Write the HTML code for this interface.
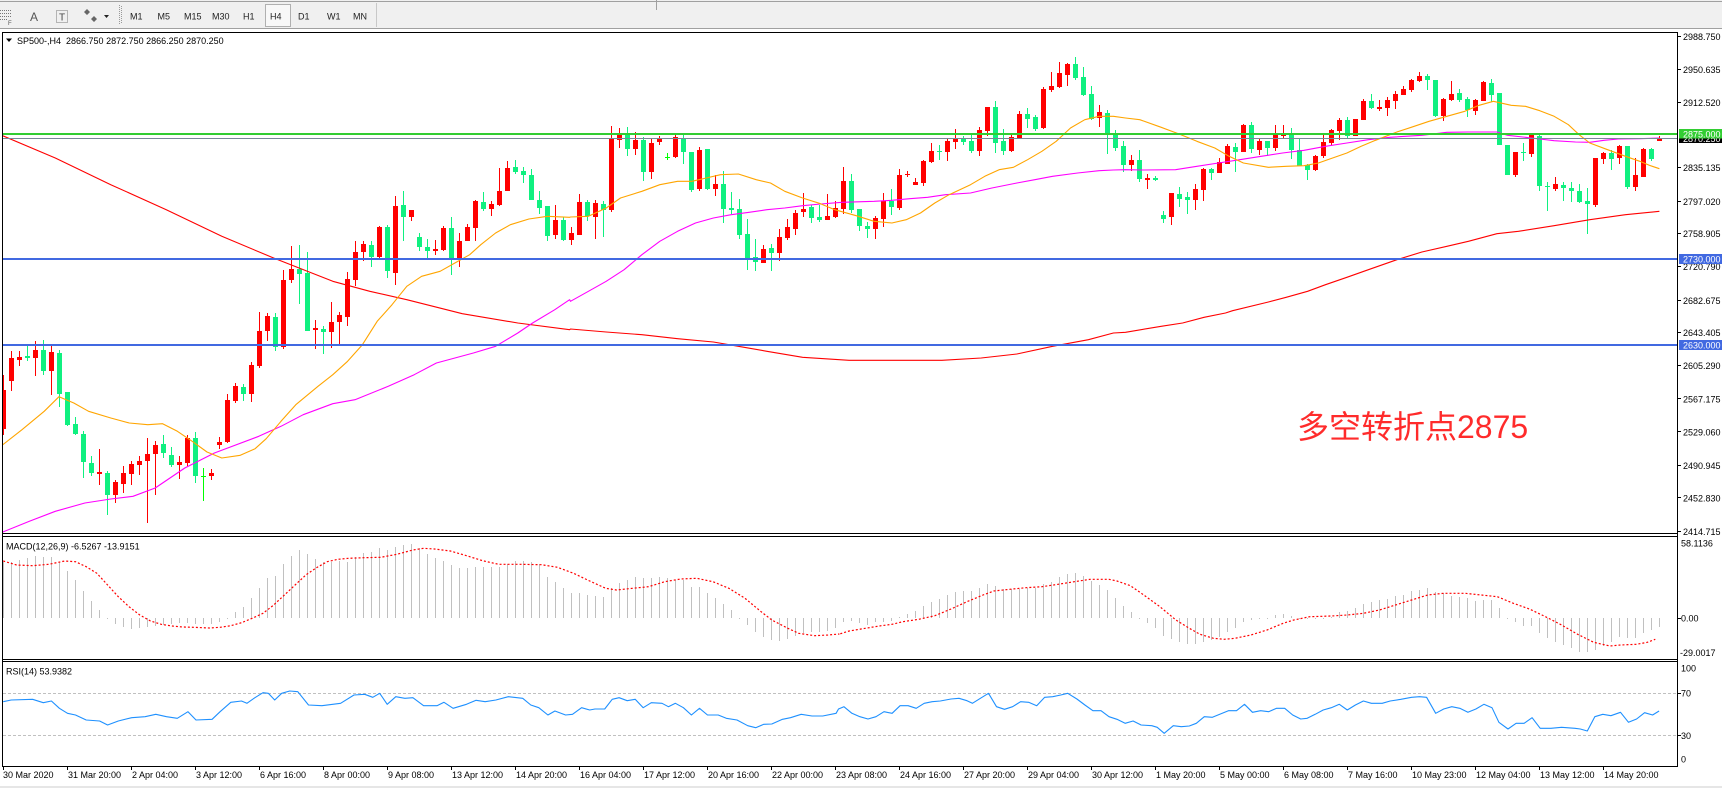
<!DOCTYPE html>
<html><head><meta charset="utf-8">
<style>
html,body{margin:0;padding:0;}
body{width:1722px;height:788px;overflow:hidden;background:#fff;position:relative;font-family:"Liberation Sans","Noto Sans CJK SC",sans-serif;}
svg{position:absolute;left:0;top:0;}
text{font-family:"Liberation Sans",sans-serif;font-size:9px;fill:#000;white-space:pre;}
.tb text{fill:#222;}
.cn{position:absolute;left:1297px;top:410px;font-size:32px;line-height:34px;color:#ff2b2b;font-family:"Liberation Sans","Noto Sans CJK SC",sans-serif;white-space:nowrap;}
</style></head><body>
<svg id="s" width="1722" height="788" viewBox="0 0 1722 788">
<defs>
<clipPath id="cm"><rect x="3" y="33" width="1674" height="500"/></clipPath>
<clipPath id="cmacd"><rect x="3" y="537" width="1674" height="122"/></clipPath>
<clipPath id="crsi"><rect x="3" y="662" width="1674" height="104"/></clipPath>
</defs>
<!-- toolbar -->
<rect x="0" y="0" width="1722" height="28" fill="#f0f0f0"/>
<rect x="0" y="1" width="1722" height="1" fill="#a0a0a0"/>
<rect x="0" y="28" width="1722" height="1" fill="#a0a0a0"/>
<rect x="656" y="0" width="1" height="10" fill="#a0a0a0"/>
<g class="tb">
<g fill="#777">
<rect x="0" y="10" width="1" height="1"/><rect x="2" y="10" width="1" height="1"/><rect x="4" y="10" width="1" height="1"/><rect x="6" y="10" width="1" height="1"/><rect x="8" y="10" width="1" height="1"/><rect x="10" y="10" width="1" height="1"/>
<rect x="0" y="13" width="1" height="1"/><rect x="2" y="13" width="1" height="1"/><rect x="4" y="13" width="1" height="1"/><rect x="6" y="13" width="1" height="1"/><rect x="8" y="13" width="1" height="1"/><rect x="10" y="13" width="1" height="1"/>
<rect x="0" y="16" width="1" height="1"/><rect x="2" y="16" width="1" height="1"/><rect x="4" y="16" width="1" height="1"/><rect x="6" y="16" width="1" height="1"/><rect x="8" y="16" width="1" height="1"/><rect x="10" y="16" width="1" height="1"/>
<rect x="0" y="19" width="1" height="1"/><rect x="2" y="19" width="1" height="1"/><rect x="4" y="19" width="1" height="1"/><rect x="6" y="19" width="1" height="1"/>
</g>
<text x="8" y="25" style="font-size:6px;fill:#555">F</text>
<text x="30" y="21" style="font-size:12px;fill:#555">A</text>
<rect x="56.5" y="10.5" width="11" height="12" fill="none" stroke="#777" stroke-dasharray="1 1"/>
<text x="59" y="20.5" style="font-size:10px;fill:#444">T</text>
<path d="M84 12 l3 -3 l3 3 l-3 3z M91 19 l3 -3 l3 3 l-3 3z" fill="#666"/>
<path d="M104 15 h5 l-2.5 3z" fill="#222"/>
<g fill="#999"><rect x="119" y="5" width="1" height="1"/><rect x="119" y="7" width="1" height="1"/><rect x="119" y="9" width="1" height="1"/><rect x="119" y="11" width="1" height="1"/><rect x="119" y="13" width="1" height="1"/><rect x="119" y="15" width="1" height="1"/><rect x="119" y="17" width="1" height="1"/><rect x="119" y="19" width="1" height="1"/><rect x="119" y="21" width="1" height="1"/><rect x="119" y="23" width="1" height="1"/><rect x="121" y="6" width="1" height="1"/><rect x="121" y="8" width="1" height="1"/><rect x="121" y="10" width="1" height="1"/><rect x="121" y="12" width="1" height="1"/><rect x="121" y="14" width="1" height="1"/><rect x="121" y="16" width="1" height="1"/><rect x="121" y="18" width="1" height="1"/><rect x="121" y="20" width="1" height="1"/><rect x="121" y="22" width="1" height="1"/></g>
<rect x="265.5" y="4.5" width="25" height="22" fill="#f8f8f8" stroke="#b0b0b0"/>
<text x="130" y="19.5">M1</text>
<text x="157.5" y="19.5">M5</text>
<text x="184" y="19.5">M15</text>
<text x="212" y="19.5">M30</text>
<text x="243" y="19.5">H1</text>
<text x="270" y="19.5">H4</text>
<text x="298" y="19.5">D1</text>
<text x="327" y="19.5">W1</text>
<text x="353" y="19.5">MN</text>
<rect x="376" y="3" width="1" height="24" fill="#c8c8c8"/>
</g>

<!-- frames -->
<g fill="#000">
<rect x="2" y="32" width="1676" height="1"/>
<rect x="2" y="533" width="1676" height="1"/>
<rect x="2" y="536" width="1676" height="1"/>
<rect x="2" y="659" width="1676" height="1"/>
<rect x="2" y="661" width="1676" height="1"/>
<rect x="2" y="766" width="1676" height="1"/>
<rect x="2" y="32" width="1" height="735"/>
<rect x="1677" y="32" width="1" height="735"/>
</g>
<rect x="0" y="786" width="1722" height="2" fill="#e6e6e6"/>

<g id="main" clip-path="url(#cm)"></g>
<g id="lines" clip-path="url(#cm)">
<rect x="3" y="138" width="1674" height="1" fill="#778899"/>
<rect x="3" y="258" width="1674" height="2" fill="#4169e1"/>
<rect x="3" y="344" width="1674" height="2" fill="#4169e1"/>
<rect x="3" y="133" width="1674" height="2" fill="#32cd32"/>
</g>
<g id="macd" clip-path="url(#cmacd)"></g>
<g id="rsi" clip-path="url(#crsi)">
<line x1="3" y1="693.5" x2="1677" y2="693.5" stroke="#c0c0c0" stroke-dasharray="3 2"/>
<line x1="3" y1="735.5" x2="1677" y2="735.5" stroke="#c0c0c0" stroke-dasharray="3 2"/>
</g>

<!-- header labels -->
<path d="M6 38.5 h6 l-3 3.5z" fill="#000"/>
<text x="17" y="44">SP500-,H4  2866.750 2872.750 2866.250 2870.250</text>
<text x="6" y="549.5">MACD(12,26,9) -6.5267 -13.9151</text>
<text x="6" y="674.5">RSI(14) 53.9382</text>

<!-- price axis -->
<g fill="#000">
<rect x="1678" y="36" width="3" height="1"/><rect x="1678" y="69" width="3" height="1"/><rect x="1678" y="102" width="3" height="1"/><rect x="1678" y="167" width="3" height="1"/><rect x="1678" y="201" width="3" height="1"/><rect x="1678" y="233" width="3" height="1"/><rect x="1678" y="266" width="3" height="1"/><rect x="1678" y="300" width="3" height="1"/><rect x="1678" y="332" width="3" height="1"/><rect x="1678" y="365" width="3" height="1"/><rect x="1678" y="398" width="3" height="1"/><rect x="1678" y="431" width="3" height="1"/><rect x="1678" y="465" width="3" height="1"/><rect x="1678" y="497" width="3" height="1"/><rect x="1678" y="531" width="3" height="1"/>
<rect x="1678" y="618" width="3" height="1"/><rect x="1678" y="693" width="3" height="1"/><rect x="1678" y="735" width="3" height="1"/>
</g>
<text x="1683" y="40">2988.750</text>
<text x="1683" y="73">2950.635</text>
<text x="1683" y="106">2912.520</text>
<text x="1683" y="171">2835.135</text>
<text x="1683" y="205">2797.020</text>
<text x="1683" y="237">2758.905</text>
<text x="1683" y="270">2720.790</text>
<text x="1683" y="304">2682.675</text>
<text x="1683" y="336">2643.405</text>
<text x="1683" y="369">2605.290</text>
<text x="1683" y="402.5">2567.175</text>
<text x="1683" y="435.5">2529.060</text>
<text x="1683" y="469">2490.945</text>
<text x="1683" y="501.5">2452.830</text>
<text x="1683" y="535">2414.715</text>
<rect x="1679" y="134" width="43" height="9" fill="#000"/>
<text x="1683" y="142" style="fill:#fff">2870.250</text>
<rect x="1679" y="129" width="43" height="9.5" fill="#32cd32"/>
<text x="1683" y="137.5" style="fill:#fff">2875.000</text>
<rect x="1679" y="254" width="43" height="10" fill="#4169e1"/>
<text x="1683" y="262.5" style="fill:#fff">2730.000</text>
<rect x="1679" y="340" width="43" height="10" fill="#4169e1"/>
<text x="1683" y="348.5" style="fill:#fff">2630.000</text>

<text x="1681" y="546.5">58.1136</text>
<text x="1681" y="621.5">0.00</text>
<text x="1680" y="656">-29.0017</text>
<text x="1681" y="671.5">100</text>
<text x="1681" y="696.5">70</text>
<text x="1681" y="739">30</text>
<text x="1681" y="762.5">0</text>

<!-- time axis -->
<g id="tticks" fill="#000"></g>
<text x="3" y="778">30 Mar 2020</text>
<text x="68" y="778">31 Mar 20:00</text>
<text x="132" y="778">2 Apr 04:00</text>
<text x="196" y="778">3 Apr 12:00</text>
<text x="260" y="778">6 Apr 16:00</text>
<text x="324" y="778">8 Apr 00:00</text>
<text x="388" y="778">9 Apr 08:00</text>
<text x="452" y="778">13 Apr 12:00</text>
<text x="516" y="778">14 Apr 20:00</text>
<text x="580" y="778">16 Apr 04:00</text>
<text x="644" y="778">17 Apr 12:00</text>
<text x="708" y="778">20 Apr 16:00</text>
<text x="772" y="778">22 Apr 00:00</text>
<text x="836" y="778">23 Apr 08:00</text>
<text x="900" y="778">24 Apr 16:00</text>
<text x="964" y="778">27 Apr 20:00</text>
<text x="1028" y="778">29 Apr 04:00</text>
<text x="1092" y="778">30 Apr 12:00</text>
<text x="1156" y="778">1 May 20:00</text>
<text x="1220" y="778">5 May 00:00</text>
<text x="1284" y="778">6 May 08:00</text>
<text x="1348" y="778">7 May 16:00</text>
<text x="1412" y="778">10 May 23:00</text>
<text x="1476" y="778">12 May 04:00</text>
<text x="1540" y="778">13 May 12:00</text>
<text x="1604" y="778">14 May 20:00</text>
</svg>
<div class="cn">多空转折点2875</div>
<script>
(function(){
var NS='http://www.w3.org/2000/svg';
function el(tag,a,p){var e=document.createElementNS(NS,tag);for(var k in a)e.setAttribute(k,a[k]);p.appendChild(e);return e;}
function rc(p,x,y,w,h,f){el('rect',{x:x,y:y,width:w,height:h,fill:f},p);}
var main=document.getElementById('main'),macd=document.getElementById('macd'),rsi=document.getElementById('rsi'),tt=document.getElementById('tticks');
for(var k=0;k<26;k++)rc(tt,3+64*k,767,1,3,'#000');
var zy=function(p){return 28+p/3;};
var C=[[0,1086,1203,1041,1221],[0,990,1060,970,1090],[0,987,995,970,1015],[1,985,990,955,1000],[0,965,990,940,1043],[1,965,1028,935,1040],[0,972,1028,955,1100],[1,975,1097,965,1138],[1,1092,1190,1092,1195],[1,1188,1217,1168,1220],
[1,1218,1303,1210,1350],[1,1305,1335,1285,1345],[0,1332,1337,1262,1372],[1,1335,1400,1330,1460],[0,1362,1402,1355,1425],[0,1335,1368,1315,1395],[0,1308,1337,1300,1370],[0,1300,1310,1285,1340],[0,1278,1300,1230,1485],[0,1250,1278,1238,1400],
[1,1248,1275,1222,1290],[1,1282,1312,1258,1318],[0,1302,1312,1285,1353],[0,1230,1305,1222,1315],[1,1230,1345,1212,1365],[2,1345,1347,1320,1420],[0,1335,1345,1322,1355],[0,1242,1252,1228,1262],[0,1115,1242,1098,1245],[0,1075,1118,1065,1125],
[1,1077,1097,1068,1118],[0,1012,1097,1003,1123],[0,910,1015,852,1020],[0,865,910,855,938],[1,868,958,855,970],[0,757,958,725,962],[0,723,757,655,765],[1,723,738,650,828],[1,735,908,672,908],[0,900,905,877,962],
[1,902,912,895,977],[0,882,913,822,960],[0,862,882,852,955],[0,753,868,733,893],[0,672,757,640,775],[0,648,672,640,700],[1,650,687,640,718],[0,598,687,595,695],[1,598,730,592,750],[0,533,735,503,770],
[1,532,568,488,638],[0,545,568,545,578],[1,628,658,615,668],[1,658,670,632,690],[0,663,670,635,680],[0,600,665,595,668],[1,600,690,568,742],[0,638,690,615,718],[0,598,638,588,638],[0,520,600,515,638],
[1,522,543,492,550],[0,528,543,518,563],[0,490,532,420,535],[0,420,490,398,490],[1,418,432,395,438],[1,428,442,418,465],[1,440,515,422,515],[1,515,540,490,558],[1,533,623,533,640],[0,575,622,532,632],
[1,575,635,568,640],[0,615,635,598,650],[0,522,620,498,622],[1,522,565,515,578],[0,525,567,515,632],[1,528,545,520,628],[0,332,545,295,552],[0,320,335,300,360],[1,320,362,297,383],[0,335,362,313,380],
[1,335,432,328,458],[0,345,432,330,452],[0,333,343,325,352],[2,386,388,376,397],[0,327,387,322,390],[1,330,372,322,408],[1,372,485,372,492],[0,366,483,358,490],[1,363,483,363,485],[0,467,482,442,503],
[1,468,543,430,585],[1,540,545,492,558],[1,543,620,513,632],[1,618,690,573,725],[1,688,703,632,728],[0,662,705,652,705],[1,660,675,648,728],[0,627,675,603,700],[0,597,630,573,635],[0,555,603,545,622],
[0,543,553,495,567],[1,538,570,530,585],[1,567,575,530,583],[0,565,575,497,577],[0,540,567,520,570],[0,458,543,417,558],[1,460,547,438,555],[1,543,593,543,608],[1,594,603,583,630],[0,570,603,565,632],
[0,520,573,495,598],[1,520,537,483,560],[0,440,540,423,545],[3,439,441,430,448],[0,462,472,450,472],[0,398,465,395,475],[0,370,402,346,405],[1,368,373,352,395],[0,338,373,330,400],[0,333,343,302,362],
[1,333,341,323,352],[1,340,368,320,375],[0,305,368,298,383],[0,237,310,237,325],[1,237,345,220,375],[1,340,368,303,380],[0,327,370,322,373],[0,258,330,248,332],[1,258,272,240,300],[1,268,302,262,308],
[0,183,300,177,303],[0,175,185,132,193],[0,135,177,102,180],[0,108,140,105,173],[1,108,150,87,157],[1,148,202,118,205],[1,198,272,175,275],[0,253,270,230,298],[1,255,322,245,378],[1,318,360,307,368],
[1,355,410,340,433],[0,397,410,382,428],[1,397,452,365,462],[0,450,455,437,482],[1,450,457,445,460],[1,562,572,548,585],[0,495,568,495,590],[1,498,512,478,537],[1,508,515,492,557],[0,483,515,468,545],
[0,422,485,420,518],[1,423,435,420,455],[0,403,435,390,435],[0,355,407,348,408],[1,357,372,345,432],[0,290,372,287,372],[1,292,362,282,375],[0,340,365,332,380],[1,340,360,338,385],[0,320,360,292,370],
[0,320,325,292,332],[1,318,365,300,392],[1,365,413,332,415],[1,410,427,408,455],[0,383,427,380,430],[0,342,385,320,390],[0,305,345,302,352],[0,275,308,270,335],[1,275,325,268,330],[0,273,325,273,325],
[0,218,275,213,275],[1,218,240,198,242],[0,237,243,217,250],[0,215,240,208,265],[0,197,218,188,243],[0,183,200,175,200],[0,155,187,152,193],[0,145,160,132,163],[1,145,157,138,185],[1,155,265,155,268],
[0,212,265,210,280],[0,198,215,158,220],[1,195,215,183,222],[1,212,245,207,268],[0,215,248,212,262],[0,163,220,160,220],[1,165,200,153,222],[1,195,352,195,352],[1,350,440,350,442],[0,372,442,372,448],
[1,373,376,345,398],[0,322,377,320,387],[1,323,475,322,490],[1,475,478,462,550],[0,468,483,448,490],[1,470,480,462,518],[1,480,490,462,523],[1,490,523,468,525],[1,520,528,480,617],[0,390,530,390,538],
[0,375,392,373,408],[1,375,392,365,425],[0,353,390,350,408],[1,353,478,353,482],[0,440,478,390,490],[0,362,447,360,448],[1,363,392,360,398],[0,330,340,325,340]];
var col=['#ff0000','#10f080','#00ff00','#ff0000'];
for(var i=0;i<C.length;i++){var c=C[i],x=8*i;
 var y1=Math.round(zy(c[1])),y2=Math.round(zy(c[2]));if(y2-y1<1)y2=y1+1;
 var w1=Math.round(zy(c[3])),w2=Math.round(zy(c[4]));if(w2-w1<1)w2=w1+1;
 rc(main,x+3,w1,1,w2-w1,col[c[0]]);rc(main,x+1,y1,5,y2-y1,col[c[0]]);}
function seg(arr,fx,fy){return arr.map(function(p){return fx(p[0]).toFixed(1)+','+fy(p[1]).toFixed(1);});}
var z8x=function(p){return 3.5+(p-10)*0.37;},z9x=function(p){return 570.5+p/2.8;},z10x=function(p){return 1125.5+p/2.8;};
function ma(a8,a9,a10,color){var pts=seg(a8,z8x,zy).concat(seg(a9,z9x,zy)).concat(seg(a10,z10x,zy));
 el('polyline',{points:pts.join(' '),fill:'none',stroke:color,'stroke-width':1.1,'stroke-linejoin':'round'},main);}
ma([[5,322],[150,390],[300,470],[450,545],[600,625],[740,690],[900,760],[1000,790],[1100,815],[1250,857],[1400,885],[1540,905]],
 [[0,903],[100,912],[200,920],[300,932],[400,942],[470,955],[550,970],[650,988],[780,997],[1040,997],[1150,990],[1250,978],[1350,955],[1450,935],[1520,915]],
 [[0,913],[100,895],[160,885],[220,868],[280,855],[300,848],[400,822],[450,808],[510,790],[560,770],[620,748],[680,725],[760,695],[830,672],[900,655],[960,640],[1040,617],[1100,610],[1200,593],[1300,575],[1400,560],[1495,550]],'#ff0000');
ma([[8,1512],[80,1480],[150,1450],[230,1425],[300,1413],[360,1405],[420,1380],[500,1320],[580,1275],[700,1225],[760,1195],[820,1160],[900,1127],[960,1115],[1050,1075],[1120,1040],[1180,1005],[1280,975],[1340,955],[1400,915],[1440,885],[1500,845],[1540,815]],
 [[0,820],[50,790],[100,760],[150,725],[200,680],[250,640],[300,610],[350,585],[400,570],[450,560],[500,553],[550,545],[600,540],[650,533],[700,528],[760,523],[850,520],[900,517],[950,512],[1000,508],[1050,500],[1120,495],[1180,480],[1250,465],[1300,455],[1350,445],[1420,435],[1480,428],[1520,426]],
 [[0,425],[50,426],[140,425],[200,415],[260,405],[320,395],[380,385],[440,375],[500,367],[560,355],[620,345],[680,335],[740,328],[830,322],[900,313],[960,312],[1040,312],[1070,322],[1120,328],[1160,333],[1200,338],[1260,342],[1300,343],[1340,337],[1380,333],[1440,332],[1495,330]],'#ff00ff');
ma([[8,1250],[60,1205],[120,1150],[160,1106],[200,1125],[240,1150],[300,1170],[350,1185],[400,1190],[440,1187],[480,1210],[520,1240],[560,1272],[600,1290],[650,1282],[690,1262],[720,1232],[760,1180],[800,1130],[860,1075],[900,1040],[940,1000],[980,950],[1020,880],[1060,830],[1100,775],[1140,745],[1190,730],[1230,705],[1270,680],[1300,650],[1340,615],[1380,590],[1430,573],[1480,565],[1540,568]],
 [[0,567],[50,565],[100,540],[140,510],[200,490],[250,470],[300,460],[340,460],[380,450],[420,440],[470,438],[520,455],[560,465],[600,490],[650,510],[700,527],[740,545],[800,563],[850,580],[900,585],[940,575],[980,555],[1020,525],[1060,500],[1120,470],[1160,445],[1200,425],[1240,418],[1280,395],[1320,370],[1360,340],[1400,300],[1440,275],[1480,265],[1520,265]],
 [[0,270],[40,275],[100,298],[150,318],[200,340],[250,360],[290,385],[330,405],[400,418],[450,415],[500,413],[540,405],[580,390],[620,375],[660,355],[700,337],[760,312],[800,298],[850,280],[900,265],[950,250],[990,232],[1030,220],[1080,232],[1120,235],[1160,248],[1200,265],[1240,290],[1270,320],[1300,345],[1350,365],[1400,385],[1440,400],[1470,413],[1495,422]],'#ffa500');
// MACD histogram
var H=[80,80,75,68,63,65,65,80,108,135,168,198,225,250,268,275,282,280,275,272,270,268,265,265,268,268,268,260,250,230,215,188,158,130,122,88,62,45,57,72,82,82,78,80,65,55,50,40,45,35,30,28,40,57,68,78,90,100,100,97,95,95,95,88,78,78,82,88,125,140,160,175,175,180,182,185,160,145,135,125,130,130,125,130,135,135,155,155,175,188,208,225,248,270,292,305,315,318,312,302,295,292,290,288,278,
260,258,265,270,262,262,258,245,238,228,212,200,192,180,170,168,168,160,147,152,162,162,162,158,158,148,140,125,118,115,123,138,150,165,188,212,230,250,265,278,302,312,322,327,328,322,315,305,290,278,262,255,250,248,240,236,242,250,248,248,250,245,232,228,218,208,200,195,192,183,180,168,165,160,172,175,183,185,190,198,195,195,218,250,260,272,272,295,310,320,330,340,350,352,345,332,322,305,310,310,295,285,275];
var my=function(p){return 535+p/3;},y0=618;
for(var j=0;j<H.length;j++){var y=Math.round(my(H[j]));var t=Math.min(y,y0),h=Math.abs(y-y0);if(h<1)h=1;rc(macd,3+8*j,t,1,h,'#c0c0c0');}
var z11x=function(p){return 0.5+p/1.867;},z12x=function(p){return 838.5+p/1.867;};
var S=seg([[5,78],[30,90],[60,92],[90,88],[120,78],[140,80],[160,95],[180,115],[200,150],[220,185],[240,215],[260,240],[280,258],[300,268],[320,273],[340,276],[360,277],[390,279],[410,277],[430,272],[450,263],[470,250],[490,235],[510,210],[530,180],[550,150],[570,120],[590,98],[610,80],[630,73],[650,70],[680,68],[710,67],[740,58],[770,45],[790,40],[810,42],[840,48],[870,62],[900,77],[930,88],[970,88],[1010,89],[1040,97],[1070,115],[1100,138],[1130,160],[1150,165],[1180,160],[1210,155],[1240,140],[1270,132],[1300,130],[1330,140],[1360,160],[1390,190],[1420,230],[1440,255],[1470,280],[1490,295],[1520,302],[1545,300],[1566,297]],z11x,my)
.concat(seg([[0,298],[20,288],[50,280],[80,272],[100,268],[120,260],[150,253],[180,242],[210,222],[240,200],[270,180],[290,168],[320,163],[350,158],[380,155],[410,148],[440,140],[470,133],[505,133],[520,138],[545,152],[570,180],[600,215],[630,255],[655,280],[675,298],[700,310],[720,313],[740,310],[770,300],[800,285],[830,265],[850,255],[880,245],[920,243],[950,240],[980,235],[1010,225],[1040,210],[1070,195],[1100,180],[1130,175],[1170,175],[1200,180],[1230,185],[1260,205],[1290,222],[1320,245],[1350,270],[1380,298],[1410,322],[1440,333],[1460,330],[1490,328],[1510,322],[1525,313]],z12x,my));
el('polyline',{points:S.join(' '),fill:'none',stroke:'#ff0000','stroke-width':1.2,'stroke-dasharray':'2 2'},macd);
var R=seg([[5,500],[20,495],[60,493],[80,503],[95,498],[110,520],[125,535],[140,540],[160,555],[185,558],[200,570],[220,558],[245,548],[270,545],[290,538],[310,545],[330,550],[350,530],[365,555],[395,553],[410,530],[430,502],[450,498],[460,505],[475,488],[490,473],[500,475],[512,495],[525,475],[540,468],[555,470],[575,510],[600,512],[635,505],[660,480],[680,478],[695,487],[708,475],[722,508],[738,485],[755,490],[770,488],[790,512],[815,512],[828,502],[845,520],[870,508],[888,496],[905,500],[925,495],[948,485],[975,490],[990,510],[1005,518],[1022,540],[1035,528],[1055,540],[1068,538],[1085,518],[1100,525],[1110,522],[1128,522],[1142,493],[1155,488],[1170,497],[1185,493],[1200,518],[1215,503],[1235,505],[1247,515],[1260,505],[1275,518],[1290,540],[1305,520],[1320,540],[1340,540],[1355,550],[1375,555],[1395,572],[1410,578],[1425,568],[1440,567],[1460,553],[1475,548],[1495,538],[1515,543],[1535,543],[1560,535]],z11x,my)
.concat(seg([[0,522],[10,515],[25,535],[40,545],[55,552],[70,545],[85,530],[100,535],[115,512],[130,512],[145,520],[160,505],[175,500],[190,498],[210,492],[225,490],[240,497],[250,505],[265,490],[280,475],[295,515],[310,523],[325,515],[340,500],[355,502],[370,512],[385,487],[400,485],[415,480],[428,475],[445,492],[460,510],[475,527],[490,527],[505,545],[520,553],[535,565],[550,558],[565,570],[585,572],[595,577],[608,595],[625,572],[640,575],[655,573],[668,565],[683,545],[698,547],[713,537],[728,527],[743,527],[758,508],[773,532],[788,527],[803,530],[818,520],[833,520],[848,540],[863,552],[875,550],[890,538],[905,525],[920,518],[935,508],[950,525],[965,510],[980,498],[995,505],[1015,505],[1030,498],[1050,493],[1070,487],[1085,485],[1098,487],[1115,535],[1130,522],[1145,515],[1160,520],[1175,532],[1190,522],[1205,508],[1220,518],[1233,562],[1250,582],[1265,565],[1280,565],[1295,548],[1310,580],[1330,580],[1350,577],[1375,580],[1385,582],[1398,588],[1412,545],[1427,538],[1442,542],[1460,532],[1475,562],[1490,552],[1505,533],[1520,540],[1532,528]],z12x,my));
el('polyline',{points:R.join(' '),fill:'none',stroke:'#1e90ff','stroke-width':1.1,'stroke-linejoin':'round'},rsi);
})();
</script>
</body></html>
